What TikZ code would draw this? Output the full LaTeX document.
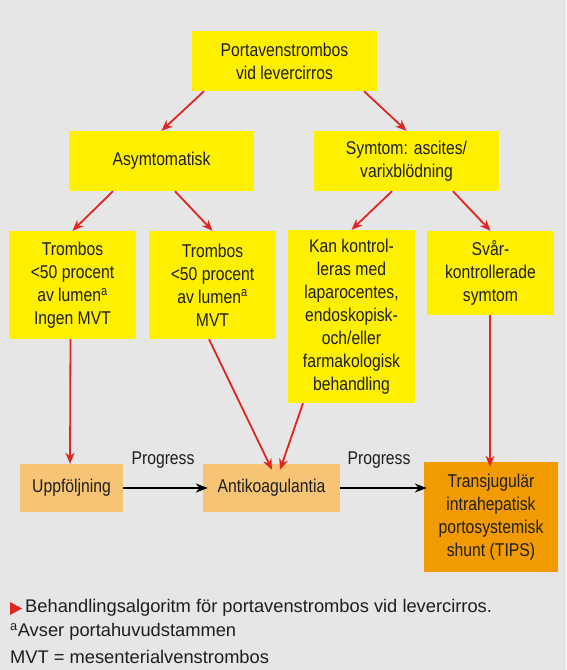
\documentclass[tikz,border=0pt]{standalone}
\usepackage{fontspec}
\setmainfont{Liberation Sans}[FakeStretch=0.85]
\newfontfamily\notefont{Liberation Sans}
\usetikzlibrary{arrows.meta,calc}
\definecolor{bg}{RGB}{230,230,230}
\definecolor{ybox}{RGB}{255,240,0}
\definecolor{lorange}{RGB}{247,195,116}
\definecolor{dorange}{RGB}{242,155,0}
\definecolor{redarrow}{RGB}{224,38,30}
\definecolor{txt}{RGB}{30,30,30}
\tikzset{
  boxtext/.style={font=\fontsize{18.5}{23}\selectfont, text=txt, align=center, inner sep=0pt},
  yellowbox/.style={boxtext, fill=ybox},
  lightbox/.style={boxtext, fill=lorange},
  darkbox/.style={boxtext, fill=dorange},
  redarr/.style={draw=redarrow, line width=1.8pt, -{Stealth[length=11pt,width=9pt]}},
  blackarr/.style={draw=black, line width=1.8pt, -{Stealth[length=12pt,width=9pt]}},
  lbl/.style={font=\fontsize{18.5}{23}\selectfont, text=txt, inner sep=0pt},
  note/.style={font=\notefont\fontsize{18.3}{24}\selectfont, text=txt, inner sep=0pt, anchor=west}
}
\begin{document}
\begin{tikzpicture}[x=1pt,y=-1pt]
\fill[bg] (0,0) rectangle (566,670);
\useasboundingbox (0,0) rectangle (566,670);

\node[yellowbox, minimum width=185pt, minimum height=60pt] (top) at (284.5,61) {Portavenstrombos\\vid levercirros};
\node[yellowbox, minimum width=185pt, minimum height=60pt] (asym) at (161.5,161) {Asymtomatisk};
\node[yellowbox, minimum width=185pt, minimum height=60pt] (sym) at (406.5,161) {Symtom: ascites/\\varixblödning};

\node[yellowbox, minimum width=127pt, minimum height=108pt] (t1) at (72.5,285) {Trombos\\<50 procent\\av lumen\textsuperscript{a}\\Ingen MVT};
\node[yellowbox, minimum width=127pt, minimum height=108pt] (t2) at (212.5,285) {Trombos\\<50 procent\\av lumen\textsuperscript{a}\\MVT};
\node[yellowbox, minimum width=127pt, minimum height=173pt] (kan) at (351.5,316.5) {Kan kontrol-\\leras med\\laparocentes,\\endoskopisk-\\och/eller\\farmakologisk\\behandling};
\node[yellowbox, minimum width=127pt, minimum height=84pt] (svar) at (490.5,273) {Svår-\\kontrollerade\\symtom};

\node[lightbox, minimum width=103pt, minimum height=48pt] (upp) at (71.5,488) {Uppföljning};
\node[lightbox, minimum width=137pt, minimum height=48pt] (anti) at (271.5,488) {Antikoagulantia};
\node[darkbox, minimum width=134pt, minimum height=110pt] (tips) at (491,517) {Transjugulär\\intrahepatisk\\portosystemisk\\shunt (TIPS)};

\node[lbl] (p1) at (163,460) {Progress};
\node[lbl] (p2) at (379,460) {Progress};

\draw[redarr] ([xshift=-80.5pt]top.south) -- (asym.north);
\draw[redarr] ([xshift=79.5pt]top.south) -- (sym.north);
\draw[redarr] ([xshift=-48.5pt]asym.south) -- (t1.north);
\draw[redarr] ([xshift=13.5pt]asym.south) -- (t2.north);
\draw[redarr] ([xshift=-14.5pt]sym.south) -- (kan.north);
\draw[redarr] ([xshift=46.5pt]sym.south) -- (svar.north);

\draw[redarr] ([xshift=-2pt]t1.south) -- ([xshift=-1.5pt]upp.north);
\draw[redarr] ([xshift=-3.5pt]t2.south) -- ([xshift=0.5pt,yshift=-6pt]anti.north);
\draw[redarr] ([xshift=-48.5pt]kan.south) -- ([xshift=8.5pt,yshift=-6pt]anti.north);
\draw[redarr] ([xshift=-0.5pt]svar.south) -- ([xshift=-1pt,yshift=-5pt]tips.north);

\draw[blackarr] (upp.east) -- ([xshift=5pt]anti.west);
\draw[blackarr] (anti.east) -- ([xshift=3pt]anti.east -| tips.west);

\fill[redarrow] (10,602) -- (22,608.5) -- (10,615) -- cycle;
\node[note] (n1) at (25,608) {Behandlingsalgoritm för portavenstrombos vid levercirros.};
\node[note] (n2) at (10,632) {\textsuperscript{a}Avser portahuvudstammen};
\node[note] (n3) at (10,657) {MVT = mesenterialvenstrombos};
\end{tikzpicture}
\end{document}
